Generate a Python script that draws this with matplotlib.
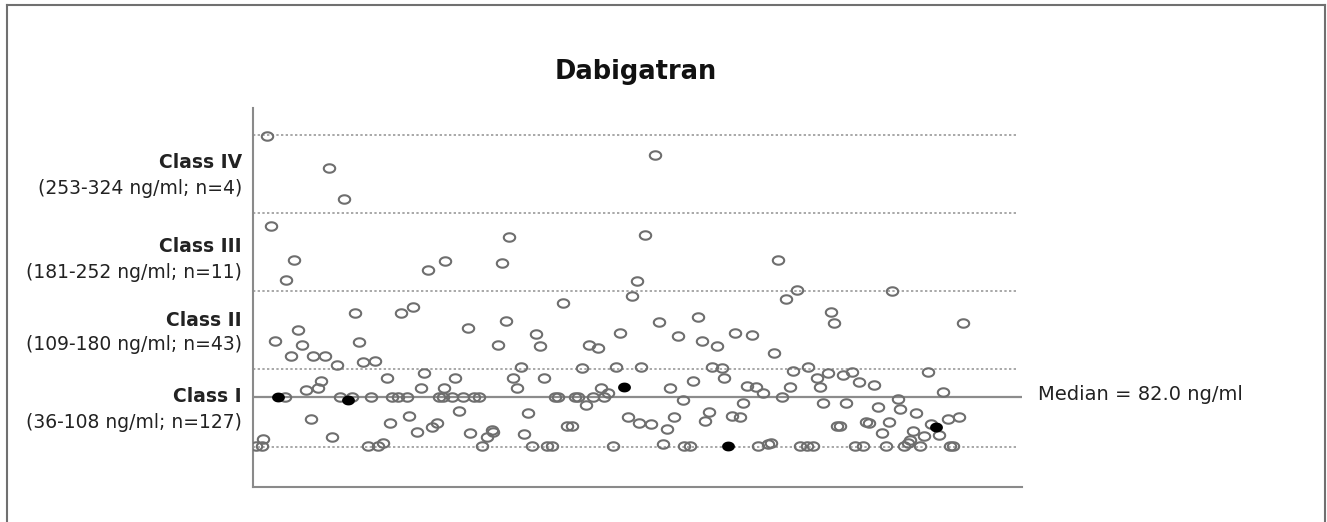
import numpy as np
import matplotlib
matplotlib.use("Agg")
import matplotlib.pyplot as plt
from matplotlib.path import Path
from matplotlib.lines import Line2D

# ---- data -------------------------------------------------------------
title = "Dabigatran"
class_bounds = [36, 108, 180, 252, 324]
median_value = 82.0
class_names = ["Class IV", "Class III", "Class II", "Class I"]
class_ranges = ["(253-324 ng/ml; n=4)", "(181-252 ng/ml; n=11)",
                "(109-180 ng/ml; n=43)", "(36-108 ng/ml; n=127)"]

# patient position (order along x) and dabigatran concentration (ng/ml)
open_x = [14, 76, 91, 402,
          18, 41, 33, 175, 192, 256, 249, 392, 384, 525, 544,
          639, 102, 148, 160, 45, 22, 49, 106, 38, 60, 72, 84, 110, 122,
          310, 379, 215, 253, 283, 367, 245, 287, 336, 345, 268, 329, 363, 388,
          533, 578, 581, 406, 445, 425, 449, 464, 482, 499, 521, 459, 469, 555, 710,
          134, 171, 68, 53, 65, 168, 191, 32, 87, 99, 118, 139, 145, 154, 186,
          58, 156, 137, 184, 179, 164, 79, 10, 3, 9, 115, 125, 130,
          202, 260, 291, 264, 348, 355, 190, 199, 210, 221, 226, 302, 305, 322, 325,
          340, 351, 333, 206, 275, 375, 386, 314, 319, 239, 240, 234, 217, 271,
          229, 279, 294, 299, 360,
          540, 564, 575, 440, 471, 417, 494, 503, 537, 567, 510, 529, 430, 490, 570,
          456, 421, 479, 487, 452, 398, 414, 584, 410, 431, 437, 505, 515, 518,
          547, 554, 560,
          590, 599, 606, 621, 675, 690, 645, 593, 625, 647, 663, 695, 706, 587,
          613, 616, 636, 678, 629, 660, 671, 686, 657, 655, 602, 610, 633, 651,
          667, 697, 700]
open_y = [323, 294, 265, 306,
          240, 209, 190, 199, 208, 230, 206, 232, 189, 209, 181,
          180, 160, 160, 165, 144, 134, 130, 133, 120, 120, 120, 112, 114, 115,
          169, 175, 146, 152, 140, 141, 130, 129, 130, 127, 110, 109, 110, 110,
          173, 161, 150, 151, 156, 138, 134, 129, 141, 139, 123, 110, 109, 110, 150,
          100, 104, 97, 89, 90, 90, 90, 82, 82, 82, 82, 82, 82, 82, 82,
          62, 65, 58, 58, 54, 50, 45, 43, 37, 37, 37, 37, 40,
          100, 100, 100, 90, 90, 86, 82, 82, 82, 82, 82, 82, 82, 82, 82,
          82, 82, 75, 69, 67, 64, 58, 55, 55, 52, 50, 45, 49, 48,
          37, 37, 37, 37, 37,
          106, 100, 104, 97, 100, 90, 92, 91, 91, 91, 86, 82, 79, 77, 77,
          68, 64, 65, 64, 60, 57, 53, 55, 39, 37, 37, 37, 39, 40,
          37, 37, 37,
          102, 105, 96, 93, 105, 87, 80, 77, 73, 71, 67, 62, 64, 55,
          59, 58, 59, 57, 49, 51, 46, 47, 42, 40, 37, 37, 37, 37,
          37, 37, 37]
filled_x = [25, 95, 371, 475, 683]
filled_y = [82, 79, 91, 37, 54]

# ---- figure -----------------------------------------------------------
W, H = 1327, 522
fig = plt.figure(figsize=(W / 100, H / 100), dpi=100)
fig.patch.set_facecolor("white")

ax = fig.add_axes([253 / W, 1 - 487 / H, (1022 - 253) / W, (487 - 108) / H])
ax.set_xlim(0, 769)
ax.set_ylim(-1, 349)

# ellipse marker (the original picture is stretched horizontally)
t = np.linspace(0, 2 * np.pi, 60)
ell = Path(np.column_stack([np.cos(t), 0.74 * np.sin(t)]), closed=True)

for b in class_bounds:
    ax.plot([0, 765], [b, b], linestyle=(0, (1.2, 1.2)), color="#a8a8a8",
            lw=1.4, zorder=1)
ax.axhline(median_value, color="#8c8c8c", lw=1.6, zorder=1)

ax.plot(open_x, open_y, linestyle="none", marker=ell, markersize=8.2,
        markerfacecolor="none", markeredgecolor="#6e6e6e", markeredgewidth=1.5,
        zorder=3)
ax.plot(filled_x, filled_y, linestyle="none", marker=ell, markersize=8.2,
        markerfacecolor="black", markeredgecolor="black", markeredgewidth=1.0,
        zorder=4)

for s in ["top", "right"]:
    ax.spines[s].set_visible(False)
for s in ["left", "bottom"]:
    ax.spines[s].set_color("#8a8a8a")
    ax.spines[s].set_linewidth(1.5)
ax.set_xticks([])
ax.set_yticks([])

# title
fig.text(636 / W, 1 - 72 / H, title, ha="center", va="center",
         fontsize=18.5, fontweight="bold", family="DejaVu Sans", color="#111111")

# class labels
name_y = [163, 246, 321, 397]
range_y = [189, 272, 345, 422]
for nm, rg, y1, y2 in zip(class_names, class_ranges, name_y, range_y):
    fig.text(242 / W, 1 - y1 / H, nm, ha="right", va="center", fontsize=13.5,
             fontweight="bold", family="DejaVu Sans", color="#222222")
    fig.text(242 / W, 1 - y2 / H, rg, ha="right", va="center", fontsize=13.5,
             family="DejaVu Sans", color="#222222")

fig.text(1038 / W, 1 - 395 / H, f"Median = {median_value:.1f} ng/ml",
         ha="left", va="center", fontsize=14, family="DejaVu Sans",
         color="#222222")

# outer frame of the picture
fc = "#707070"
fig.add_artist(Line2D([7 / W, 7 / W], [0, 1 - 5 / H], color=fc, lw=1.5))
fig.add_artist(Line2D([7 / W, 1325 / W], [1 - 5 / H, 1 - 5 / H], color=fc, lw=1.5))
fig.add_artist(Line2D([1325 / W, 1325 / W], [0, 1 - 5 / H], color=fc, lw=1.5))

fig.savefig("out.png", dpi=100)
